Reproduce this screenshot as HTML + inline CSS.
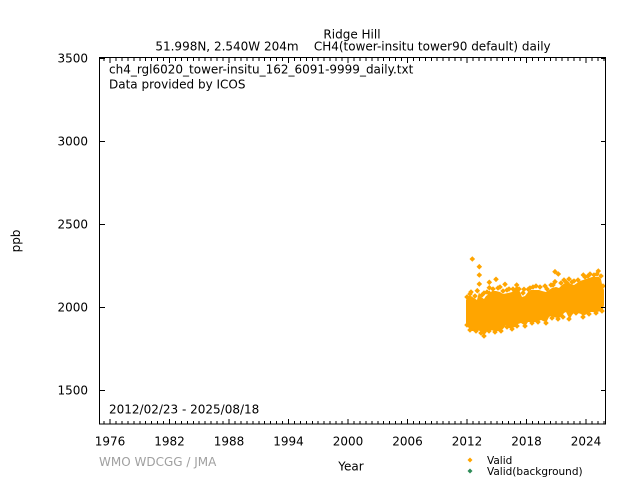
<!DOCTYPE html>
<html>
<head>
<meta charset="utf-8">
<style>
html,body{margin:0;padding:0;background:#fff;}
svg{display:block;}
text{font-family:"DejaVu Sans","Liberation Sans",sans-serif;font-size:12px;fill:#000;}
</style>
</head>
<body>
<svg width="640" height="480" viewBox="0 0 640 480" xmlns="http://www.w3.org/2000/svg">
<defs>
<path id="d" d="M0,-2.8L2.8,0L0,2.8L-2.8,0z"/>
</defs>
<rect x="0" y="0" width="640" height="480" fill="#fff"/>

<!-- titles -->
<text x="352" y="38.5" text-anchor="middle">Ridge Hill</text>
<text x="353" y="50.5" text-anchor="middle" xml:space="preserve">51.998N, 2.540W 204m    CH4(tower-insitu tower90 default) daily</text>

<!-- data body -->
<g fill="#FFA500">
<polygon points="466,300 468,296 471,296 474,298 477,300 479,292 481,297 484,299 486,296 489,294 492,291 496,291 500,292 503,294 508,293 512,292 515,288 517,285 520,292 522,297 525,296 528,292 531,290 535,290 539,290 542,291 546,292 549,290 552,288 556,287 559,288 562,285 565,283 568,282 571,284 574,285 577,283 580,281 583,280 586,279 589,278 592,277 596,277 599,277 601,279 602,284 604,290 604,296 604,305 603,309 601,311 597,312 594,312 591,312 588,313 585,315 583,316 581,314 578,313 575,312 572,315 570,319 568,316 566,312 564,313 562,316 559,318 557,318 554,317 551,316 549,317 547,321 545,322 543,321 541,320 539,321 537,322 534,322 531,322 528,322 526,325 524,325 521,323 518,324 515,327 512,328 509,328 506,325 503,329 500,331 497,331 494,331 491,330 488,330 486,333 484,335 482,334 480,331 477,330 474,331 471,331 468,327 466,323"/>
<!-- spikes -->
<use href="#d" x="472.3" y="259"/>
<use href="#d" x="479.3" y="266.7"/>
<use href="#d" x="479.3" y="275"/>
<use href="#d" x="479.3" y="284"/>
<use href="#d" x="477.3" y="290.7"/>
<use href="#d" x="489.3" y="282.3"/>
<use href="#d" x="496" y="279.3"/>
<use href="#d" x="489.3" y="287.7"/>
<use href="#d" x="489.3" y="293.3"/>
<use href="#d" x="505" y="284.3"/>
<use href="#d" x="516.7" y="285"/>
<use href="#d" x="524" y="289.3"/>
<use href="#d" x="528.3" y="289.3"/>
<use href="#d" x="545" y="286"/>
<use href="#d" x="555" y="271.7"/>
<use href="#d" x="558.3" y="274"/>
<use href="#d" x="555" y="281.7"/>
<use href="#d" x="566.7" y="282.7"/>
<use href="#d" x="583.3" y="275"/>
<use href="#d" x="598.3" y="271"/>
<use href="#d" x="471" y="292"/>
<use href="#d" x="484" y="293"/>
<use href="#d" x="500" y="287"/>
<use href="#d" x="536" y="286"/>
<use href="#d" x="590" y="274"/>
<use href="#d" x="498" y="288"/>
<use href="#d" x="509" y="289"/>
<use href="#d" x="551" y="285"/>
<use href="#d" x="574" y="281"/>
<!-- top edge texture -->
<use href="#d" x="467" y="297"/>
<use href="#d" x="470" y="294"/>
<use href="#d" x="475" y="296"/>
<use href="#d" x="482" y="295"/>
<use href="#d" x="487" y="292"/>
<use href="#d" x="493" y="289"/>
<use href="#d" x="503" y="291"/>
<use href="#d" x="507" y="290"/>
<use href="#d" x="513" y="289"/>
<use href="#d" x="519" y="289"/>
<use href="#d" x="523" y="293"/>
<use href="#d" x="530" y="288"/>
<use href="#d" x="533" y="287"/>
<use href="#d" x="540" y="287"/>
<use href="#d" x="547" y="289"/>
<use href="#d" x="553" y="285"/>
<use href="#d" x="561" y="283"/>
<use href="#d" x="564" y="280"/>
<use href="#d" x="569" y="279"/>
<use href="#d" x="572" y="282"/>
<use href="#d" x="578" y="280"/>
<use href="#d" x="585" y="277"/>
<use href="#d" x="588" y="276"/>
<use href="#d" x="594" y="275"/>
<use href="#d" x="597" y="274"/>
<use href="#d" x="601" y="276"/>
<use href="#d" x="603" y="286"/>
<!-- bottom edge texture -->
<use href="#d" x="467" y="325"/>
<use href="#d" x="470" y="330"/>
<use href="#d" x="476" y="331"/>
<use href="#d" x="481" y="333"/>
<use href="#d" x="484" y="336"/>
<use href="#d" x="489" y="331"/>
<use href="#d" x="495" y="332"/>
<use href="#d" x="501" y="331"/>
<use href="#d" x="507" y="327"/>
<use href="#d" x="512" y="329"/>
<use href="#d" x="517" y="326"/>
<use href="#d" x="525" y="326"/>
<use href="#d" x="532" y="323"/>
<use href="#d" x="538" y="322"/>
<use href="#d" x="546" y="323"/>
<use href="#d" x="552" y="318"/>
<use href="#d" x="558" y="319"/>
<use href="#d" x="563" y="317"/>
<use href="#d" x="569" y="319"/>
<use href="#d" x="576" y="313"/>
<use href="#d" x="583" y="317"/>
<use href="#d" x="589" y="314"/>
<use href="#d" x="596" y="313"/>
<use href="#d" x="602" y="311"/>
</g>

<!-- axes border -->
<rect x="99.5" y="57.5" width="506" height="366.5" fill="none" stroke="#000" stroke-width="1"/>

<!-- y ticks -->
<g stroke="#000" stroke-width="1">
<path d="M100,58.5h5M606,58.5h-5"/>
<path d="M100,141.5h5M606,141.5h-5"/>
<path d="M100,224.5h5M606,224.5h-5"/>
<path d="M100,307.5h5M606,307.5h-5"/>
<path d="M100,390.5h5M606,390.5h-5"/>
</g>

<!-- x ticks: major -->
<g stroke="#000" stroke-width="1">
<path d="M110,424v-5M110,58v5"/>
<path d="M169.5,424v-5M169.5,58v5"/>
<path d="M229,424v-5M229,58v5"/>
<path d="M288.5,424v-5M288.5,58v5"/>
<path d="M348,424v-5M348,58v5"/>
<path d="M407.5,424v-5M407.5,58v5"/>
<path d="M467,424v-5M467,58v5"/>
<path d="M526.5,424v-5M526.5,58v5"/>
<path d="M586,424v-5M586,58v5"/>
</g>
<!-- x ticks: minor -->
<g stroke="#000" stroke-width="1">
<path d="M104,424v-3M104,58v3M116,424v-3M116,58v3M122,424v-3M122,58v3M128,424v-3M128,58v3M134,424v-3M134,58v3M140,424v-3M140,58v3M145.5,424v-3M145.5,58v3M151.5,424v-3M151.5,58v3M157.5,424v-3M157.5,58v3M163.5,424v-3M163.5,58v3"/>
<path d="M175.5,424v-3M175.5,58v3M181.5,424v-3M181.5,58v3M187.5,424v-3M187.5,58v3M193.5,424v-3M193.5,58v3M199,424v-3M199,58v3M205,424v-3M205,58v3M211,424v-3M211,58v3M217,424v-3M217,58v3M223,424v-3M223,58v3"/>
<path d="M235,424v-3M235,58v3M241,424v-3M241,58v3M247,424v-3M247,58v3M253,424v-3M253,58v3M259,424v-3M259,58v3M264.5,424v-3M264.5,58v3M270.5,424v-3M270.5,58v3M276.5,424v-3M276.5,58v3M282.5,424v-3M282.5,58v3"/>
<path d="M294.5,424v-3M294.5,58v3M300.5,424v-3M300.5,58v3M306.5,424v-3M306.5,58v3M312.5,424v-3M312.5,58v3M318,424v-3M318,58v3M324,424v-3M324,58v3M330,424v-3M330,58v3M336,424v-3M336,58v3M342,424v-3M342,58v3"/>
<path d="M354,424v-3M354,58v3M360,424v-3M360,58v3M366,424v-3M366,58v3M372,424v-3M372,58v3M378,424v-3M378,58v3M383.5,424v-3M383.5,58v3M389.5,424v-3M389.5,58v3M395.5,424v-3M395.5,58v3M401.5,424v-3M401.5,58v3"/>
<path d="M413.5,424v-3M413.5,58v3M419.5,424v-3M419.5,58v3M425.5,424v-3M425.5,58v3M431.5,424v-3M431.5,58v3M437,424v-3M437,58v3M443,424v-3M443,58v3M449,424v-3M449,58v3M455,424v-3M455,58v3M461,424v-3M461,58v3"/>
<path d="M473,424v-3M473,58v3M479,424v-3M479,58v3M485,424v-3M485,58v3M491,424v-3M491,58v3M497,424v-3M497,58v3M502.5,424v-3M502.5,58v3M508.5,424v-3M508.5,58v3M514.5,424v-3M514.5,58v3M520.5,424v-3M520.5,58v3"/>
<path d="M532.5,424v-3M532.5,58v3M538.5,424v-3M538.5,58v3M544.5,424v-3M544.5,58v3M550.5,424v-3M550.5,58v3M556,424v-3M556,58v3M562,424v-3M562,58v3M568,424v-3M568,58v3M574,424v-3M574,58v3M580,424v-3M580,58v3"/>
<path d="M592,424v-3M592,58v3M598,424v-3M598,58v3M604,424v-3M604,58v3"/>
</g>

<!-- y tick labels -->
<g text-anchor="end">
<text x="88" y="62.5">3500</text>
<text x="88" y="145.5">3000</text>
<text x="88" y="228.5">2500</text>
<text x="88" y="311.5">2000</text>
<text x="88" y="394.5">1500</text>
</g>

<!-- x tick labels -->
<g text-anchor="middle">
<text x="110" y="445.5">1976</text>
<text x="169.5" y="445.5">1982</text>
<text x="229" y="445.5">1988</text>
<text x="288.5" y="445.5">1994</text>
<text x="348" y="445.5">2000</text>
<text x="407.5" y="445.5">2006</text>
<text x="467" y="445.5">2012</text>
<text x="526.5" y="445.5">2018</text>
<text x="586" y="445.5">2024</text>
</g>

<!-- in-plot labels -->
<text x="109" y="73.5">ch4_rgl6020_tower-insitu_162_6091-9999_daily.txt</text>
<text x="109" y="88.5">Data provided by ICOS</text>
<text x="109" y="413.5">2012/02/23 - 2025/08/18</text>

<!-- axis titles -->
<text x="0" y="0" text-anchor="middle" transform="translate(20,241) rotate(-90)">ppb</text>
<text x="351" y="470.5" text-anchor="middle">Year</text>
<text x="99" y="466" style="fill:#a0a0a0">WMO WDCGG / JMA</text>

<!-- legend -->
<path d="M470,457.5l2.5,2.5l-2.5,2.5l-2.5,-2.5z" fill="#FFA500"/>
<path d="M470,468.5l2.5,2.5l-2.5,2.5l-2.5,-2.5z" fill="#2E8B57"/>
<text x="487" y="464" style="font-size:10.5px">Valid</text>
<text x="487" y="475" style="font-size:10.5px">Valid(background)</text>
</svg>
</body>
</html>
